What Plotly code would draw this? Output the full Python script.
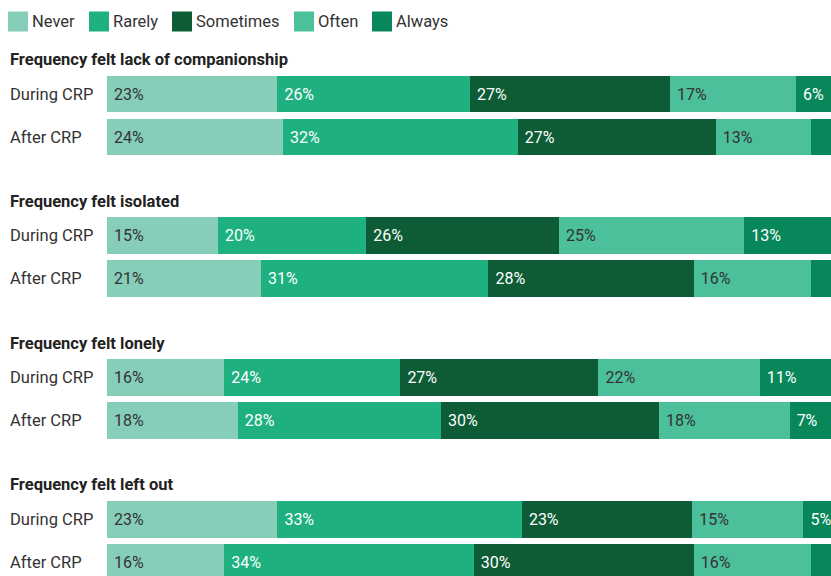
import plotly.graph_objects as go
from plotly.subplots import make_subplots

# ---------------- data ----------------
categories = ["Never", "Rarely", "Sometimes", "Often", "Always"]
groups = [
    "Frequency felt lack of companionship",
    "Frequency felt isolated",
    "Frequency felt lonely",
    "Frequency felt left out",
]
periods = ["During CRP", "After CRP"]

never_during = [23, 15, 16, 23]
never_after = [24, 21, 18, 16]
rarely_during = [26, 20, 24, 33]
rarely_after = [32, 31, 28, 34]
sometimes_during = [27, 26, 27, 23]
sometimes_after = [27, 28, 30, 30]
often_during = [17, 25, 22, 15]
often_after = [13, 16, 18, 16]
always_during = [6, 13, 11, 5]
always_after = [4, 4, 7, 4]

# ---------------- style ----------------
colors = ["#86CEB9", "#1EB17F", "#0D5C35", "#4CBF9B", "#08875A"]
text_colors = ["#333333", "#ffffff", "#ffffff", "#333333", "#ffffff"]
FONT = "Roboto, Arial, sans-serif"

W, H = 831, 576
ML = 107
PW = W - ML
PITCH = 141.8
UNIT = 43.0

series = {
    "Never": (never_during, never_after),
    "Rarely": (rarely_during, rarely_after),
    "Sometimes": (sometimes_during, sometimes_after),
    "Often": (often_during, often_after),
    "Always": (always_during, always_after),
}

fig = make_subplots(rows=4, cols=1)

annotations = []
shapes = []

for k, g in enumerate(groups):
    for ci, cat in enumerate(categories):
        d, a = series[cat]
        vals = [d[k], a[k]]
        txt = [f"\u00a0{v}%" if v >= 5 else "" for v in vals]
        fig.add_trace(
            go.Bar(
                y=periods,
                x=vals,
                orientation="h",
                name=cat,
                marker=dict(color=colors[ci], line=dict(width=0)),
                text=txt,
                texttemplate="%{text}",
                textposition="inside",
                insidetextanchor="start",
                textangle=0,
                textfont=dict(family=FONT, size=16, color=text_colors[ci]),
                showlegend=False,
                hoverinfo="x+y+name",
            ),
            row=k + 1,
            col=1,
        )

    top_px = 72.5 + PITCH * k
    bot_px = min(158.5 + PITCH * k, H)
    y_lo = 1.5 - (bot_px - top_px) / UNIT
    yname = "yaxis" if k == 0 else f"yaxis{k+1}"
    xname = "xaxis" if k == 0 else f"xaxis{k+1}"
    fig.update_layout(
        **{
            yname: dict(
                domain=[1 - bot_px / H, 1 - top_px / H],
                categoryorder="array",
                categoryarray=["After CRP", "During CRP"],
                range=[y_lo, 1.5],
                showticklabels=False,
                showgrid=False,
                zeroline=False,
                fixedrange=True,
            ),
            xname: dict(
                range=[0, 100 * PW / 733.5],
                visible=False,
                showgrid=False,
                zeroline=False,
                fixedrange=True,
            ),
        }
    )

    # group title
    annotations.append(
        dict(
            text=f"<b>{g}</b>",
            xref="paper",
            x=0,
            xshift=-(ML - 8),
            xanchor="left",
            yref="paper",
            y=1 - (59.5 + PITCH * k) / H,
            yanchor="middle",
            showarrow=False,
            font=dict(family=FONT, size=16.5, color="#222222"),
        )
    )
    # row labels
    yref = "y" if k == 0 else f"y{k+1}"
    for p in periods:
        annotations.append(
            dict(
                text=p,
                xref="paper",
                x=0,
                xshift=-(ML - 8),
                xanchor="left",
                yref=yref,
                y=p,
                yanchor="middle",
                showarrow=False,
                font=dict(family=FONT, size=16.5, color="#333333"),
            )
        )

# manual legend (square swatches)
legend_px = [8, 89, 172, 294, 372]
for ci, cat in enumerate(categories):
    x0 = legend_px[ci]
    shapes.append(
        dict(
            type="rect",
            xref="paper",
            yref="paper",
            x0=(x0 - ML) / PW,
            x1=(x0 + 20 - ML) / PW,
            y0=1 - 31.5 / H,
            y1=1 - 11.5 / H,
            fillcolor=colors[ci],
            line=dict(width=0),
            layer="above",
        )
    )
    annotations.append(
        dict(
            text=cat,
            xref="paper",
            x=(x0 + 22 - ML) / PW,
            xanchor="left",
            yref="paper",
            y=1 - 21.5 / H,
            yanchor="middle",
            showarrow=False,
            font=dict(family=FONT, size=16.5, color="#333333"),
        )
    )

fig.update_layout(
    width=W,
    height=H,
    barmode="stack",
    barnorm="percent",
    bargap=0.14,
    margin=dict(l=ML, r=0, t=0, b=0, pad=0),
    plot_bgcolor="white",
    paper_bgcolor="white",
    font=dict(family=FONT, size=16, color="#333333"),
    annotations=annotations,
    shapes=shapes,
    showlegend=False,
)

fig.write_html(
    "out.html",
    config={"displayModeBar": False},
    post_script="document.body.style.margin='0';document.body.style.overflow='hidden';",
)
